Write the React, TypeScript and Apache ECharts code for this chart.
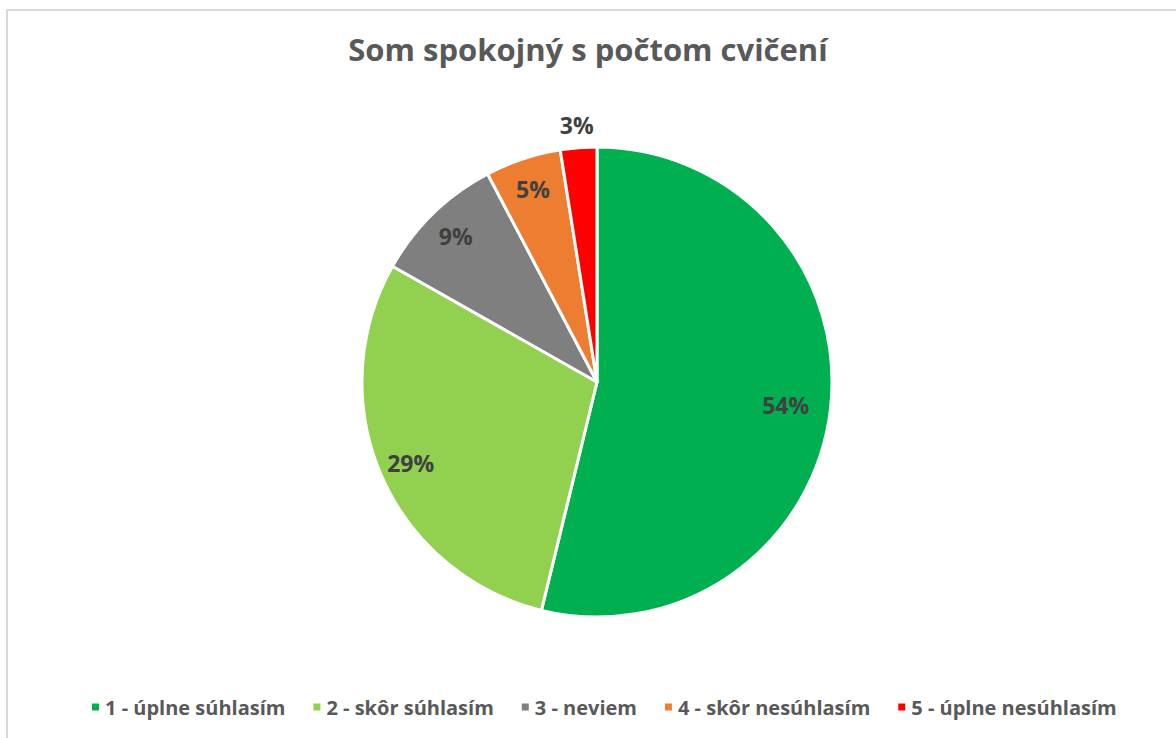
import React, { useEffect, useRef } from "react";
import * as echarts from "echarts";

const titleText = "Som spokojný s počtom cvičení";
const categories = [
  "1 - úplne súhlasím",
  "2 - skôr súhlasím",
  "3 - neviem",
  "4 - skôr nesúhlasím",
  "5 - úplne nesúhlasím",
];
const values = [53.8, 29.4, 9.1, 5.2, 2.5];
const colors = ["#00B050", "#92D050", "#7F7F7F", "#ED7D31", "#FF0000"];

const FONT = "Open Sans";
const CX = 597;
const CY = 382;
const R = 235;

export default function App() {
  const ref = useRef<HTMLDivElement>(null);
  useEffect(() => {
    if (!ref.current) return;
    const chart = echarts.init(ref.current, undefined, { renderer: "svg" });
    const data = categories.map((name, i) => ({
      name,
      value: values[i],
      itemStyle: { color: colors[i] },
    }));
    const labelStyle = {
      fontFamily: FONT,
      fontWeight: "bold" as const,
      fontSize: 23,
      color: "#404040",
    };
    const overlay = (radius: number, show: number[]) => ({
      type: "pie",
      center: [CX, CY],
      radius: [0, radius],
      startAngle: 90,
      clockwise: true,
      silent: true,
      legendHoverLink: false,
      itemStyle: { color: "transparent", borderWidth: 0 },
      emphasis: { disabled: true },
      labelLine: { show: false },
      data: categories.map((name, i) => ({
        name: "_" + name,
        value: values[i],
        itemStyle: { color: "transparent" },
        label: {
          show: show.includes(i),
          position: "inside",
          formatter: () => Math.round(values[i]) + "%",
          ...labelStyle,
        },
      })),
      z: 5,
    });
    chart.setOption({
      animation: false,
      backgroundColor: "#ffffff",
      title: {
        text: titleText,
        left: "center",
        top: 28,
        textStyle: {
          fontFamily: FONT,
          fontWeight: "bold",
          fontSize: 31,
          color: "#595959",
        },
      },
      legend: {
        data: categories.map((name, i) => ({
          name,
          itemStyle: { color: colors[i] },
        })),
        bottom: 21,
        left: 90,
        icon: "rect",
        itemWidth: 9,
        itemHeight: 9,
        itemGap: 26,
        padding: 0,
        selectedMode: false,
        textStyle: {
          fontFamily: FONT,
          fontWeight: "bold",
          fontSize: 20,
          color: "#595959",
        },
      },
      graphic: [
        {
          type: "rect",
          shape: { x: 7, y: 10, width: 1300, height: 900 },
          style: { fill: "none", stroke: "#D9D9D9", lineWidth: 2 },
          silent: true,
        },
      ],
      series: [
        {
          type: "pie",
          center: [CX, CY],
          radius: [0, R],
          startAngle: 90,
          clockwise: true,
          itemStyle: { borderColor: "#ffffff", borderWidth: 3 },
          label: { show: false },
          labelLine: { show: false },
          emphasis: { disabled: true },
          data,
          z: 2,
        },
        overlay(374, [0]),
        overlay(400, [1, 2, 3]),
        overlay(510, [4]),
      ],
    });
    return () => chart.dispose();
  }, []);
  return (
    <div
      ref={ref}
      style={{ position: "fixed", left: 0, top: 0, width: 1176, height: 738 }}
    />
  );
}
